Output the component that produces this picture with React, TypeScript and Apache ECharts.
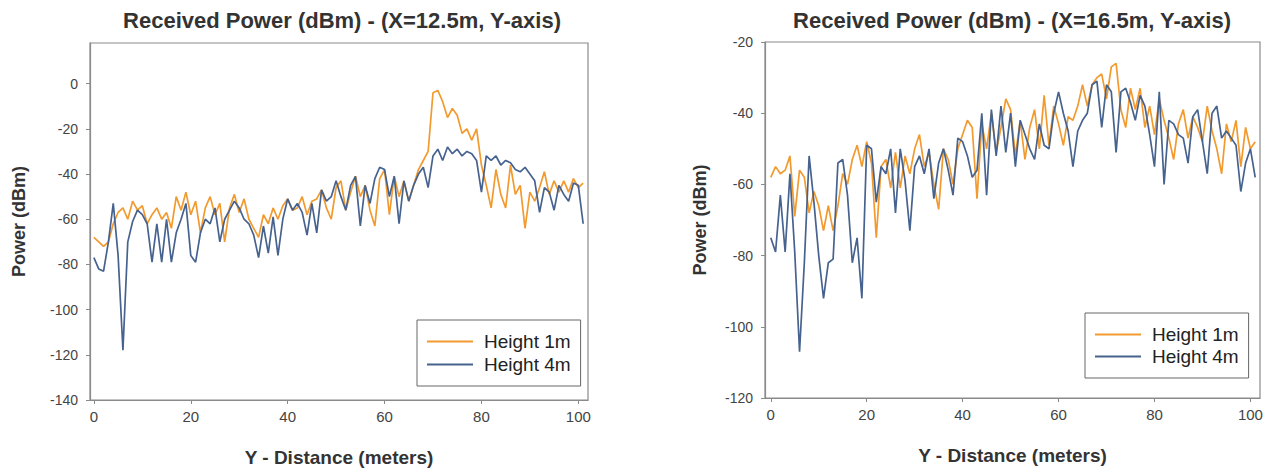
import React, { useEffect, useRef } from "react";
import * as echarts from "echarts";

// Sample positions along Y (meters)
const DIST = [
  0, 1, 2, 3, 4, 5, 6, 7, 8, 9, 10, 11, 12, 13, 14, 15, 16, 17, 18, 19, 20,
  21, 22, 23, 24, 25, 26, 27, 28, 29, 30, 31, 32, 33, 34, 35, 36, 37, 38, 39, 40,
  41, 42, 43, 44, 45, 46, 47, 48, 49, 50, 51, 52, 53, 54, 55, 56, 57, 58, 59, 60,
  61, 62, 63, 64, 65, 66, 67, 68, 69, 70, 71, 72, 73, 74, 75, 76, 77, 78, 79, 80,
  81, 82, 83, 84, 85, 86, 87, 88, 89, 90, 91, 92, 93, 94, 95, 96, 97, 98, 99, 100, 101,
];

// X = 12.5 m
const LEFT_H1 = [
  -68, -70, -72, -70, -62, -57, -55, -60, -52, -56, -54, -62, -58, -55, -60, -57, -64, -50, -56, -48,
  -58, -52, -66, -55, -50, -58, -53, -70, -55, -49, -57, -51, -60, -64, -68, -58, -62, -55, -60, -54,
  -51, -56, -55, -50, -58, -52, -51, -47, -55, -60, -46, -43, -56, -48, -41, -50, -45, -56, -63, -42,
  -38, -58, -41, -50, -43, -52, -45, -38, -34, -30, -4, -3, -8, -15, -11, -14, -22, -20, -25, -20,
  -36, -45, -55, -38, -49, -55, -36, -49, -45, -64, -48, -52, -46, -39, -49, -43, -48, -43, -48, -42,
  -46, -44,
];
const LEFT_H4 = [
  -77, -82, -83, -70, -53, -76, -118, -70, -61, -56, -58, -62, -79, -62, -79, -60, -79, -66, -60, -53,
  -76, -79, -66, -60, -62, -55, -70, -60, -56, -52, -55, -60, -62, -67, -77, -63, -75, -59, -76, -60,
  -51, -56, -53, -57, -67, -53, -66, -47, -52, -50, -43, -50, -56, -45, -41, -63, -45, -53, -42, -37,
  -38, -50, -41, -62, -43, -52, -45, -40, -37, -46, -32, -29, -34, -28, -31, -29, -32, -30, -31, -34,
  -48, -32, -34, -32, -36, -34, -35, -38, -39, -37, -40, -43, -57, -46, -48, -56, -45, -49, -52, -44,
  -45, -62,
];

// X = 16.5 m
const RIGHT_H1 = [
  -58, -55, -57, -56, -52, -69, -56, -58, -68, -62, -66, -73, -66, -73, -66, -57, -60, -53, -49, -55,
  -48, -54, -75, -55, -53, -61, -51, -61, -52, -57, -50, -46, -55, -51, -60, -67, -50, -53, -60, -50,
  -46, -42, -44, -64, -43, -50, -40, -51, -44, -36, -39, -52, -42, -53, -44, -39, -50, -35, -49, -38,
  -43, -49, -41, -42, -38, -32, -38, -32, -30, -29, -36, -27, -26, -39, -44, -33, -39, -33, -44, -38,
  -46, -36, -42, -47, -53, -43, -39, -47, -41, -44, -48, -38, -45, -50, -57, -43, -48, -42, -55, -44,
  -50, -48,
];
const RIGHT_H4 = [
  -75, -79, -63, -79, -57, -79, -107, -82, -52, -65, -80, -92, -82, -81, -54, -53, -63, -82, -75, -92,
  -49, -50, -65, -55, -57, -50, -68, -50, -59, -73, -55, -52, -57, -50, -64, -54, -50, -56, -63, -47,
  -48, -52, -58, -56, -40, -63, -39, -52, -38, -51, -40, -55, -42, -46, -50, -53, -43, -49, -50, -40,
  -34, -40, -45, -55, -45, -42, -40, -32, -31, -44, -32, -34, -51, -34, -33, -37, -42, -35, -38, -46,
  -55, -34, -60, -42, -43, -46, -47, -54, -41, -39, -48, -57, -40, -38, -47, -45, -47, -49, -62, -54,
  -50, -58,
];

const X_TICKS = [0, 20, 40, 60, 80, 100];
const LEFT_Y_TICKS = [-140, -120, -100, -80, -60, -40, -20, 0];
const RIGHT_Y_TICKS = [-120, -100, -80, -60, -40, -20];

const SERIES_NAMES = ["Height 1m", "Height 4m"];
const TITLES = [
  "Received Power (dBm) - (X=12.5m, Y-axis)",
  "Received Power (dBm) - (X=16.5m, Y-axis)",
];

const ORANGE = "#F29A2E";
const BLUE = "#46628E";
const FONT = '"Liberation Sans", Arial, Helvetica, sans-serif';

const pairs = (ys: number[]) => DIST.map((d, i) => [d, ys[i]]);

export default function App() {
  const ref = useRef<HTMLDivElement>(null);
  useEffect(() => {
    if (!ref.current) return;
    const chart = echarts.init(ref.current, undefined, { renderer: "svg" });

    const xAxis = (gridIndex: number, min: number) => ({
      type: "value",
      gridIndex,
      min,
      max: 102,
      name: "Y - Distance (meters)",
      nameLocation: "middle",
      nameGap: 48,
      nameTextStyle: { fontFamily: FONT, fontSize: 19, fontWeight: "bold", color: "#333" },
      axisLine: { show: true, onZero: false, lineStyle: { color: "#8a8a8a", width: 1.2 } },
      axisTick: { show: true, inside: false, length: 4, customValues: X_TICKS, lineStyle: { color: "#8a8a8a" } },
      axisLabel: { customValues: X_TICKS, fontFamily: FONT, fontSize: 15, color: "#444", margin: 9 },
      splitLine: { show: false },
    });
    const yAxis = (gridIndex: number, min: number, max: number, ticks: number[], gap: number) => ({
      type: "value",
      gridIndex,
      min,
      max,
      name: "Power (dBm)",
      nameLocation: "middle",
      nameGap: gap,
      nameRotate: 90,
      nameTextStyle: { fontFamily: FONT, fontSize: 18, fontWeight: "bold", color: "#333" },
      axisLine: { show: true, onZero: false, lineStyle: { color: "#8a8a8a", width: 1.2 } },
      axisTick: { show: true, inside: false, length: 4, customValues: ticks, lineStyle: { color: "#8a8a8a" } },
      axisLabel: { customValues: ticks, fontFamily: FONT, fontSize: 14, color: "#444", margin: 12 },
      splitLine: { show: false },
    });

    const legend = (left: number, top: number, gap: number) => ({
      orient: "vertical",
      left,
      top,
      data: SERIES_NAMES,
      icon: "rect",
      backgroundColor: "#fff",
      borderColor: "#666",
      borderWidth: 1,
      borderRadius: 0,
      padding: [12, 10, 12, 10],
      itemWidth: 46,
      itemHeight: 2,
      itemGap: gap,
      selectedMode: false,
      textStyle: { fontFamily: FONT, fontSize: 19, color: "#222", padding: [0, 0, 0, 6] },
    });

    const line = (name: string, xi: number, ys: number[], color: string, z: number) => ({
      type: "line",
      name,
      xAxisIndex: xi,
      yAxisIndex: xi,
      data: pairs(ys),
      symbol: "none",
      showSymbol: false,
      z,
      lineStyle: { color, width: 1.7 },
      itemStyle: { color },
    });

    const titleText = (x: number, text: string) => ({
      type: "text",
      x,
      y: 20,
      style: {
        text,
        fill: "#333",
        font: `bold 22px ${FONT}`,
        textAlign: "center",
        textVerticalAlign: "middle",
        align: "center",
        verticalAlign: "middle",
      },
    });

    chart.setOption({
      animation: false,
      backgroundColor: "#fff",
      graphic: [titleText(342, TITLES[0]), titleText(1012, TITLES[1])],
      grid: [
        { left: 90, top: 43, width: 498, height: 357, show: true, borderColor: "#8a8a8a", borderWidth: 1.2, backgroundColor: "#fff" },
        { left: 765, top: 42, width: 495, height: 356, show: true, borderColor: "#8a8a8a", borderWidth: 1.2, backgroundColor: "#fff" },
      ],
      xAxis: [xAxis(0, -0.8), xAxis(1, -1.2)],
      yAxis: [
        yAxis(0, -140, 18, LEFT_Y_TICKS, 62),
        yAxis(1, -120, -20, RIGHT_Y_TICKS, 56),
      ],
      legend: [legend(417, 320, 4), legend(1085, 313, 3)],
      series: [
        line(SERIES_NAMES[0], 0, LEFT_H1, ORANGE, 2),
        line(SERIES_NAMES[1], 0, LEFT_H4, BLUE, 3),
        line(SERIES_NAMES[0], 1, RIGHT_H1, ORANGE, 2),
        line(SERIES_NAMES[1], 1, RIGHT_H4, BLUE, 3),
      ],
    });
    return () => chart.dispose();
  }, []);
  return (
    <div
      ref={ref}
      style={{ position: "fixed", left: 0, top: 0, width: 1271, height: 473, background: "#fff" }}
    />
  );
}
